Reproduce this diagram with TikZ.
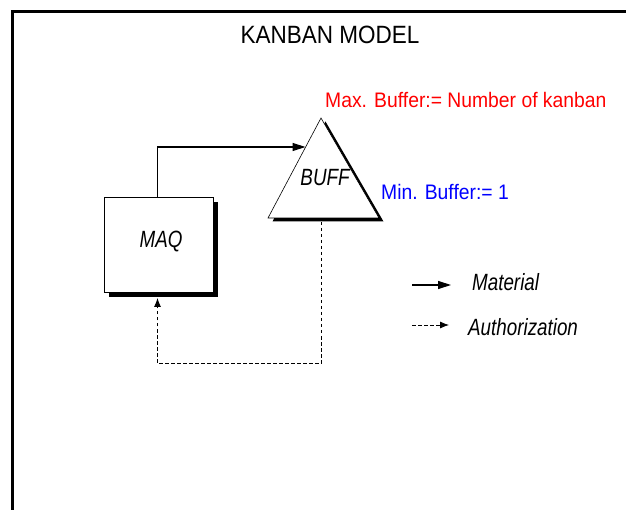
\documentclass[tikz,border=0pt]{standalone}
\usepackage{fontspec}
\setmainfont{Liberation Sans}[FakeStretch=0.9]
\newfontfamily\redfont{Liberation Sans}[FakeStretch=0.92]
\newfontfamily\labfont{Liberation Sans Italic}[FakeStretch=0.8]
\usetikzlibrary{arrows.meta,calc}
\begin{document}
\begin{tikzpicture}[x=1pt,y=-1pt,
  lbl/.style={inner sep=0pt,anchor=center},
  itl/.style={lbl,font=\labfont\fontsize{23.5}{26}\selectfont},
  matarrow/.style={line width=1.3pt,-{Triangle[length=13pt,width=8pt]}},
  autharrow/.style={line width=0.8pt,dash pattern=on 3.5pt off 2.5pt,-{Latex[length=9pt,width=7pt]}},
  shadowfill/.style={fill=black,draw=none}]
\useasboundingbox (0,0) rectangle (626,510);
\fill[white] (0,0) rectangle (626,510);
% frame
\draw[line width=3pt] (12,510) -- (12,12) -- (626,12);
% title
\node[lbl,font=\fontsize{25}{28}\selectfont] (title) at (330,35) {KANBAN MODEL};
% MAQ box with shadow
\fill[shadowfill] (109,202) rectangle (218,297);
\node[draw,line width=0.8pt,fill=white,minimum width=109pt,minimum height=95pt,inner sep=0pt,anchor=north west] (maq) at (104,197) {};
\node[itl] at (161,242) {MAQ};
% BUFF triangle with shadow
\fill[shadowfill,shift={(4.5,3.5)}] (321,118) -- (379,218) -- (268,218) -- cycle;
\draw[line width=0.6pt,fill=white] (321,118) coordinate (apex) -- (379,218) coordinate (br) -- (268,218) coordinate (bl) -- cycle;
\node[itl] (buff) at (325,178) {BUFF};
\coordinate (buffin) at (305.5,147);
\coordinate (buffbot) at (321,222);
% texts
\node[lbl,anchor=west,text=red,font=\redfont\fontsize{21}{24}\selectfont] (maxb) at (325,100) {Max. Buffer:= Number of kanban};
\node[lbl,anchor=west,text=blue,font=\redfont\fontsize{21}{24}\selectfont] (minb) at (381,192) {Min. Buffer:= 1};
% material flow
\coordinate (maqtop) at (157.5,197);
\draw[matarrow] (maqtop) |- (buffin);
% authorization flow
\coordinate (maqbot) at (157.5,298);
\draw[autharrow] (buffbot) -- (321,363.5) -| (maqbot);
% legend
\coordinate (l1a) at (412,285);
\coordinate (l1b) at (451,285);
\draw[matarrow] (l1a) -- (l1b);
\node[itl,anchor=west] (mat) at (472,282) {Material};
\coordinate (l2a) at (412,325);
\coordinate (l2b) at (449,325);
\draw[autharrow] (l2a) -- (l2b);
\node[itl,anchor=west] (auth) at (468,327) {Authorization};
\end{tikzpicture}
\end{document}
